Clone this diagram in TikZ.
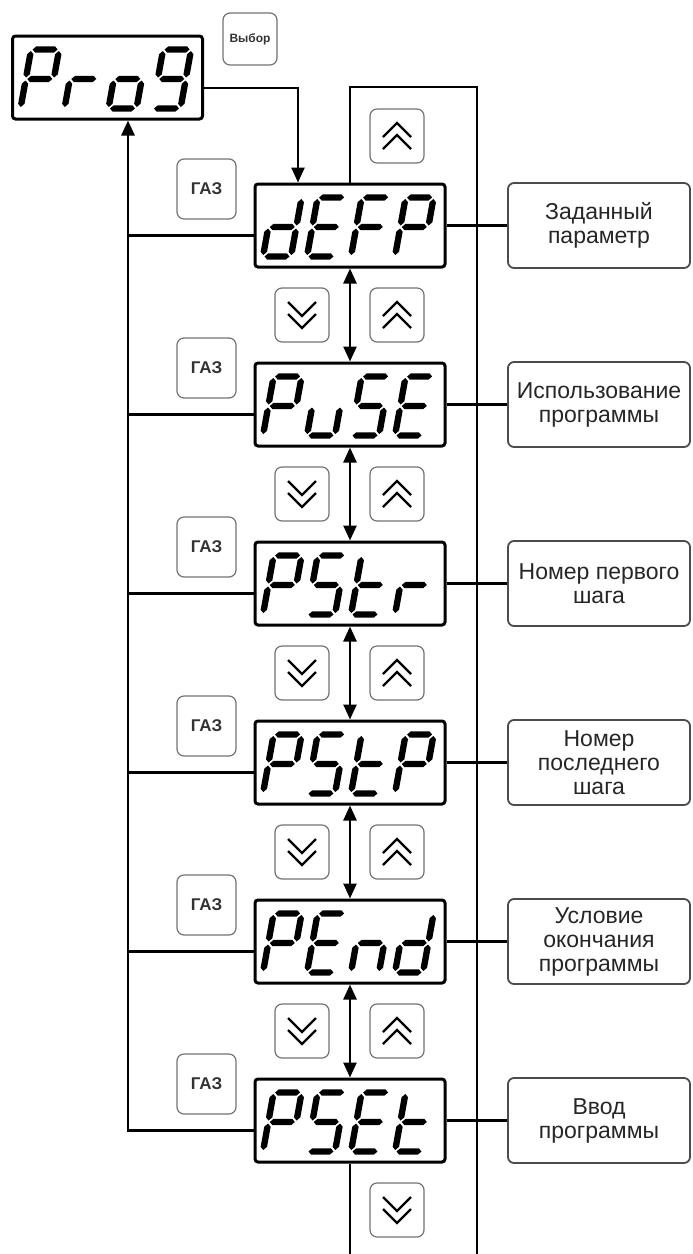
\documentclass[tikz,border=0pt]{standalone}
\usepackage{fontspec}
\setmainfont{Liberation Sans}
\usetikzlibrary{positioning,arrows.meta}

% seven segment glyphs, local units: u to the right, v upwards
\newcommand{\hseg}[1]{\fill (1.5,#1) -- (4.7,#1+3.2) -- (23.3,#1+3.2) -- (26.5,#1) -- (23.3,#1-3.2) -- (4.7,#1-3.2) -- cycle;}
\newcommand{\vseg}[3]{\fill (#1,#2) -- (#1+3.2,#2+3.2) -- (#1+3.2,#3-3.2) -- (#1,#3) -- (#1-3.2,#3-3.2) -- (#1-3.2,#2+3.2) -- cycle;}
\newcommand{\sega}{\hseg{59}}
\newcommand{\segb}{\vseg{28}{31}{57.5}}
\newcommand{\segc}{\vseg{28}{1.5}{28}}
\newcommand{\segd}{\hseg{0}}
\newcommand{\sege}{\vseg{0}{1.5}{28}}
\newcommand{\segf}{\vseg{0}{31}{57.5}}
\newcommand{\segg}{\hseg{29.5}}
\newcommand{\sevseg}[3]{%
  \begin{scope}[shift={(#1.south west)},x=1pt,y=1pt,shift={(9.5+44*#2,12)},xslant=0.18]
    \foreach \s in #3 {\csname seg\s\endcsname}
  \end{scope}}
% double chevrons on the arrow keys
\newcommand{\upchev}[1]{%
  \draw[chev] ([shift={(-14,1)}]#1.center) -- ++(14,-14) -- ++(14,14);
  \draw[chev] ([shift={(-14,13)}]#1.center) -- ++(14,-14) -- ++(14,14);}
\newcommand{\dnchev}[1]{%
  \draw[chev] ([shift={(-14,-13)}]#1.center) -- ++(14,14) -- ++(14,-14);
  \draw[chev] ([shift={(-14,-1)}]#1.center) -- ++(14,14) -- ++(14,-14);}

\begin{document}
\begin{tikzpicture}[x=1pt,y=-1pt,
  disp/.style={draw,line width=3pt,rounded corners=3pt,minimum width=190pt,minimum height=83pt,inner sep=0pt},
  key/.style={draw=black!55,line width=1.2pt,rounded corners=7pt,fill=white,inner sep=0pt,text=black!80,font=\bfseries\fontsize{17}{17}\selectfont},
  arrkey/.style={key,minimum size=54pt},
  gaskey/.style={key,minimum width=59pt,minimum height=60pt},
  descr/.style={draw=black!70,line width=1.8pt,rounded corners=6pt,minimum width=182pt,minimum height=85pt,align=center,inner sep=2pt,text=black!85,font=\fontsize{23}{24}\selectfont},
  conn/.style={line width=2.5pt},
  arr/.style={-{Triangle[width=13pt,length=15pt]}},
  darr/.style={{Triangle[width=13pt,length=15pt]}-{Triangle[width=13pt,length=15pt]}},
  chev/.style={line width=2.3pt}
]
\useasboundingbox (0,0) rectangle (693,1254);

% menu entry
\node[disp] (prog) at (107.5,77.5) {};
\node[key,minimum width=54pt,minimum height=52pt,font=\bfseries\fontsize{12}{12}\selectfont] (sel) at (250,39) {Выбор};

% parameter rows
\foreach \txt [count=\i from 0] in {{Заданный\\параметр},{Использование\\программы},{Номер первого\\шага},{Номер\\последнего\\шага},{Условие\\окончания\\программы},{Ввод\\программы}}{
  \node[disp] (d\i) at (350,225.5+179*\i) {};
  \node[descr] (t\i) at (599,225.5+179*\i) {\txt};
  \node[gaskey] (g\i) at (206.5,189+179*\i) {ГАЗ};
  \node[arrkey] (up\i) at (397,136+179*\i) {};
  \upchev{up\i}
  \coordinate (bus\i) at (128,235.5+179*\i);
  \draw[conn] (d\i.east) -- (t\i.west);
  \ifnum\i<5
    \draw[conn] (bus\i) -- (bus\i -| d\i.west);
  \fi
  \ifnum\i>0
    \pgfmathtruncatemacro\j{\i-1}
    \node[arrkey] (dn\i) at (302,136+179*\i) {};
    \dnchev{dn\i}
    \draw[conn,darr] (d\j.south) -- (d\i.north);
  \fi
}
\node[arrkey] (dn6) at (397,1210) {};
\dnchev{dn6}

% display contents
\foreach \ch [count=\k from 0] in {{a,b,e,f,g},{e,g},{c,d,e,g},{a,b,c,d,f,g}}{\sevseg{prog}{\k}{\ch}}
\foreach \ch [count=\k from 0] in {{b,c,d,e,g},{a,d,e,f,g},{a,e,f,g},{a,b,e,f,g}}{\sevseg{d0}{\k}{\ch}}
\foreach \ch [count=\k from 0] in {{a,b,e,f,g},{c,d,e},{a,c,d,f,g},{a,d,e,f,g}}{\sevseg{d1}{\k}{\ch}}
\foreach \ch [count=\k from 0] in {{a,b,e,f,g},{a,c,d,f,g},{d,e,f,g},{e,g}}{\sevseg{d2}{\k}{\ch}}
\foreach \ch [count=\k from 0] in {{a,b,e,f,g},{a,c,d,f,g},{d,e,f,g},{a,b,e,f,g}}{\sevseg{d3}{\k}{\ch}}
\foreach \ch [count=\k from 0] in {{a,b,e,f,g},{a,d,e,f,g},{c,e,g},{b,c,d,e,g}}{\sevseg{d4}{\k}{\ch}}
\foreach \ch [count=\k from 0] in {{a,b,e,f,g},{a,c,d,f,g},{a,d,e,f,g},{d,e,f,g}}{\sevseg{d5}{\k}{\ch}}

% connections
\draw[conn,arr] ([yshift=-10.5pt]prog.east) -| ([xshift=-52pt]d0.north);
\draw[conn,arr] (bus5 -| d5.west) -- (bus5) -- (bus5 |- prog.south);
\coordinate (ltop) at (477,87);
\coordinate (lend) at (477,1254);
\coordinate (lout) at (350,1254);
\draw[conn] (d0.north) |- (ltop) -- (lend);
\draw[conn] (d5.south) -- (lout);
\end{tikzpicture}
\end{document}
